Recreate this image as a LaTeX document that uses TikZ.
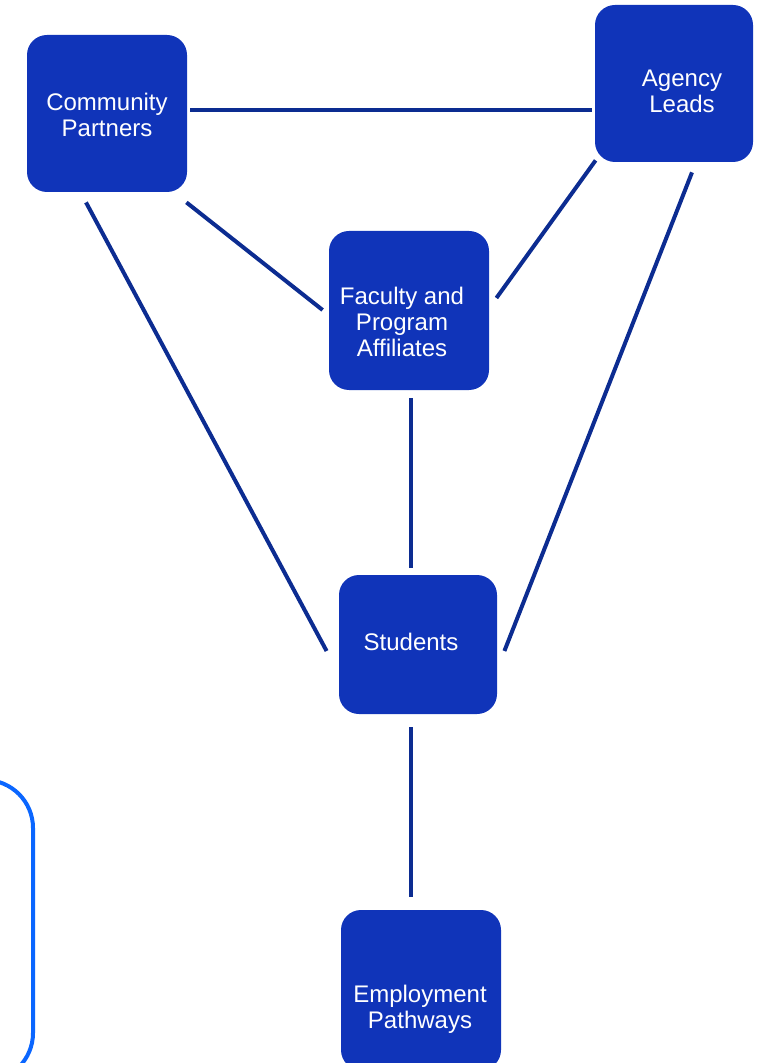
\documentclass[tikz,border=0pt]{standalone}
\usepackage{fontspec}
\setmainfont{Liberation Sans}
\definecolor{boxblue}{RGB}{16,52,185}
\definecolor{linkblue}{RGB}{12,44,145}
\definecolor{frameblue}{RGB}{10,102,255}

\begin{document}
\begin{tikzpicture}[
       x=0.5pt, y=-0.5pt,
       party/.style={
         rectangle,
         rounded corners=10pt,
         fill=boxblue,
         minimum width=80pt,
         minimum height=78.5pt,
         inner sep=0pt
       },
       txt/.style={
         text=white,
         align=center,
         font=\fontsize{12}{13}\selectfont
       },
       link/.style={
         draw=linkblue,
         line width=2pt
       }
     ]
\useasboundingbox (0,0) rectangle (759,1063);
\node[party,label={[txt,shift={(0,1.5)}]center:Community\\Partners}] (cp) at (107,113.5) {};
\node[party,minimum width=79pt,label={[txt,shift={(8,7.5)}]center:Agency\\Leads}] (al) at (674,83.5) {};
\node[party,minimum height=79.5pt,label={[txt,shift={(-7,11.5)}]center:Faculty and\\Program\\Affiliates}] (fa) at (409,310.5) {};
\node[party,minimum width=79pt,minimum height=69.5pt,label={[txt,shift={(-7,-2.5)}]center:Students}] (st) at (418,644.5) {};
\node[party,minimum height=80pt,label={[txt,shift={(-1,19)}]center:Employment\\Pathways}] (ep) at (421,990) {};

\draw[link] ([shift={(3,-3.5)}]cp.east) -- ([shift={(-3,26.5)}]al.west);
\draw[link] ([shift={(-1,10)}]cp.south east) -- ([shift={(-6,-0.5)}]fa.west);
\draw[link] ([shift={(-21,10)}]cp.south) -- ([shift={(-12,6.5)}]st.west);
\draw[link] ([shift={(1,-2)}]al.south west) -- ([shift={(7,-12.5)}]fa.east);
\draw[link] ([shift={(18,10)}]al.south) -- ([shift={(7,6.5)}]st.east);
\draw[link] ([shift={(2,8)}]fa.south) -- ([shift={(-7,-7)}]st.north);
\draw[link] ([shift={(-7,13)}]st.south) -- ([shift={(-10,-13)}]ep.north);

\draw[frameblue,line width=2pt,rounded corners=24pt] (-80,780) rectangle (33,1081);

\end{tikzpicture}
\end{document}
